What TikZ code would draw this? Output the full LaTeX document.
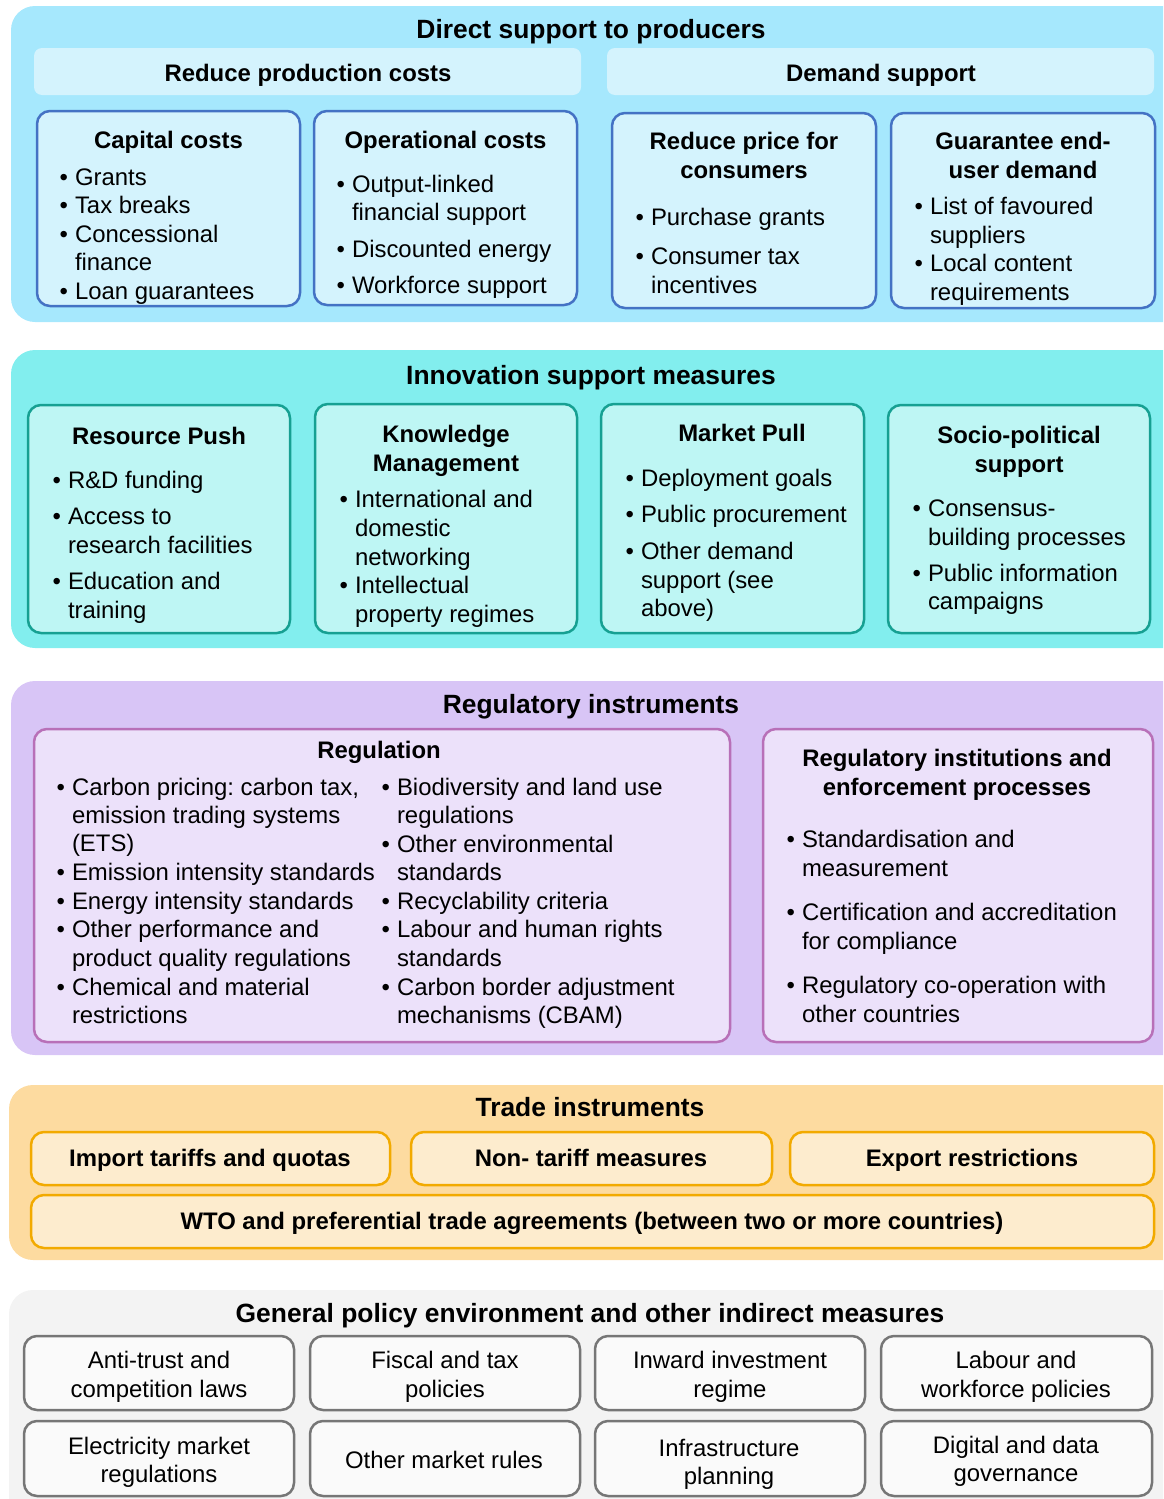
\documentclass[tikz,border=0pt]{standalone}
\usepackage{fontspec}
\setmainfont{Liberation Sans}
\frenchspacing
\definecolor{oA}{RGB}{166,232,253}
\definecolor{iA}{RGB}{212,243,253}
\definecolor{bA}{RGB}{68,114,196}
\definecolor{oB}{RGB}{130,238,238}
\definecolor{iB}{RGB}{190,246,244}
\definecolor{bB}{RGB}{22,160,146}
\definecolor{oC}{RGB}{216,197,246}
\definecolor{iC}{RGB}{236,225,250}
\definecolor{bC}{RGB}{184,112,184}
\definecolor{oD}{RGB}{253,219,160}
\definecolor{iD}{RGB}{253,236,206}
\definecolor{bD}{RGB}{242,170,0}
\definecolor{oE}{RGB}{243,243,243}
\definecolor{iE}{RGB}{250,250,250}
\definecolor{bE}{RGB}{118,118,118}
\newcommand\bodyfont{\fontsize{23.9}{28}\selectfont\frenchspacing}
\newcommand\ttlfont{\fontsize{26.4}{31}\selectfont\bfseries}
\newcounter{ln}
\newcommand\bx[6]{\node[#2,anchor=north west,minimum width={#5pt-#3pt},minimum height={#6pt-#4pt}] (#1) at (#3,#4) {};}
\newcommand\tl[3]{\stepcounter{ln}\node[txt,anchor=base west] (l\arabic{ln}) at (#1,#2+8) {#3};}
\newcommand\bi[4]{\stepcounter{ln}\node[txt,anchor=base west] (d\arabic{ln}) at (#2-15.5,#3+8) {•};\node[txt,anchor=base west] (l\arabic{ln}) at (#2,#3+8) {#4};}
\newcommand\ct[3]{\stepcounter{ln}\node[txt,anchor=base] (c\arabic{ln}) at (#1,#2+8) {\bfseries #3};}
\newcommand\cn[3]{\stepcounter{ln}\node[txt,anchor=base] (n\arabic{ln}) at (#1,#2+8) {#3};}
\newcommand\sectitle[4]{\node[ttl,anchor=base] (#1) at (#2,#3+9) {#4};}
\begin{document}
\begin{tikzpicture}[x=1pt,y=-1pt,
  txt/.style={inner sep=0pt,outer sep=0pt,font=\bodyfont,text=black},
  ttl/.style={inner sep=0pt,outer sep=0pt,font=\ttlfont,text=black},
  panel/.style={inner sep=0pt,outer sep=0pt,rounded corners=24pt},
  card/.style={inner sep=0pt,outer sep=0pt,rounded corners=13pt,line width=2.5pt},
  oAp/.style={panel,fill=oA},
  oBp/.style={panel,fill=oB},
  oCp/.style={panel,fill=oC},
  oDp/.style={panel,fill=oD},
  oEp/.style={panel,fill=oE},
  bandA/.style={inner sep=0pt,outer sep=0pt,rounded corners=8pt,fill=iA},
  cA/.style={card,fill=iA,draw=bA},
  cB/.style={card,fill=iB,draw=bB},
  cC/.style={card,fill=iC,draw=bC},
  cD/.style={card,fill=iD,draw=bD},
  cE/.style={card,fill=iE,draw=bE}]
\useasboundingbox (0,0) rectangle (1163,1499);
\clip (0,0) rectangle (1163,1499);

% ---------- Section 1 ----------
\bx{s1}{oAp}{11}{6}{1200}{322}
\sectitle{t1}{591}{29}{Direct support to producers}
\bx{rpc}{bandA}{34}{48}{581}{95}
\bx{dms}{bandA}{607}{48}{1154}{95}
\ct{308}{73}{Reduce production costs}
\ct{881}{73}{Demand support}
\bx{cap}{cA}{37}{111}{300}{306}
\bx{ope}{cA}{314}{111}{577}{305}
\bx{rpr}{cA}{612}{113}{876}{308}
\bx{gua}{cA}{891}{113}{1155}{308}
\ct{168.5}{140}{Capital costs}
\bi{62}{75}{177}{Grants}
\bi{62}{75}{205}{Tax breaks}
\bi{62}{75}{234}{Concessional}
\tl{75}{262}{finance}
\bi{62}{75}{291}{Loan guarantees}
\ct{445.5}{140}{Operational costs}
\bi{339}{352}{184}{Output-linked}
\tl{352}{212}{financial support}
\bi{339}{352}{249}{Discounted energy}
\bi{339}{352}{285}{Workforce support}
\ct{744}{141}{Reduce price for}
\ct{744}{170}{consumers}
\bi{637}{651}{217}{Purchase grants}
\bi{637}{651}{256}{Consumer tax}
\tl{651}{285}{incentives}
\ct{1023}{141}{Guarantee end-}
\ct{1023}{170}{user demand}
\bi{916}{930}{206}{List of favoured}
\tl{930}{235}{suppliers}
\bi{916}{930}{263}{Local content}
\tl{930}{292}{requirements}

% ---------- Section 2 ----------
\bx{s2}{oBp}{11}{350}{1200}{648}
\sectitle{t2}{591}{375}{Innovation support measures}
\bx{rsp}{cB}{28}{405}{290}{633}
\bx{knm}{cB}{315}{404}{577}{633}
\bx{mkp}{cB}{601}{404}{864}{633}
\bx{spo}{cB}{888}{405}{1150}{633}
\ct{159}{436}{Resource Push}
\bi{57}{68}{480}{R\&D funding}
\bi{57}{68}{516}{Access to}
\tl{68}{545}{research facilities}
\bi{57}{68}{581}{Education and}
\tl{68}{610}{training}
\ct{446}{434}{Knowledge}
\ct{446}{463}{Management}
\bi{344}{355}{499}{International and}
\tl{355}{528}{domestic}
\tl{355}{557}{networking}
\bi{344}{355}{585}{Intellectual}
\tl{355}{614}{property regimes}
\ct{742}{433}{Market Pull}
\bi{630}{641}{478}{Deployment goals}
\bi{630}{641}{514}{Public procurement}
\bi{630}{641}{551}{Other demand}
\tl{641}{580}{support (see}
\tl{641}{608}{above)}
\ct{1019}{435}{Socio-political}
\ct{1019}{464}{support}
\bi{917}{928}{508}{Consensus-}
\tl{928}{537}{building processes}
\bi{917}{928}{573}{Public information}
\tl{928}{601}{campaigns}

% ---------- Section 3 ----------
\bx{s3}{oCp}{11}{681}{1200}{1055}
\sectitle{t3}{591}{704}{Regulatory instruments}
\bx{reg}{cC}{34}{729}{730}{1042}
\bx{rin}{cC}{763}{729}{1153}{1042}
\ct{379}{750}{Regulation}
\bi{62}{72}{787}{Carbon pricing: carbon tax,}
\tl{72}{815}{emission trading systems}
\tl{72}{843}{(ETS)}
\bi{62}{72}{872}{Emission intensity standards}
\bi{62}{72}{901}{Energy intensity standards}
\bi{62}{72}{929}{Other performance and}
\tl{72}{958}{product quality regulations}
\bi{62}{72}{987}{Chemical and material}
\tl{72}{1015}{restrictions}
\bi{387}{397}{787}{Biodiversity and land use}
\tl{397}{815}{regulations}
\bi{387}{397}{844}{Other environmental}
\tl{397}{872}{standards}
\bi{387}{397}{901}{Recyclability criteria}
\bi{387}{397}{929}{Labour and human rights}
\tl{397}{958}{standards}
\bi{387}{397}{987}{Carbon border adjustment}
\tl{397}{1015}{mechanisms (CBAM)}
\ct{957}{758}{Regulatory institutions and}
\ct{957}{787}{enforcement processes}
\bi{791}{802}{839}{Standardisation and}
\tl{802}{868}{measurement}
\bi{791}{802}{912}{Certification and accreditation}
\tl{802}{941}{for compliance}
\bi{791}{802}{985}{Regulatory co-operation with}
\tl{802}{1014}{other countries}

% ---------- Section 4 ----------
\bx{s4}{oDp}{9}{1085}{1200}{1260}
\sectitle{t4}{590}{1107}{Trade instruments}
\bx{imp}{cD}{31}{1132}{390}{1185}
\bx{ntm}{cD}{411}{1132}{772}{1185}
\bx{exr}{cD}{790}{1132}{1154}{1185}
\bx{wto}{cD}{31}{1195}{1154}{1248}
\ct{210}{1158}{Import tariffs and quotas}
\ct{591}{1158}{Non- tariff measures}
\ct{972}{1158}{Export restrictions}
\ct{592}{1221}{WTO and preferential trade agreements (between two or more countries)}

% ---------- Section 5 ----------
\bx{s5}{oEp}{9}{1290}{1200}{1540}
\sectitle{t5}{590}{1313}{General policy environment and other indirect measures}
\bx{atr}{cE}{24}{1336}{294}{1410}
\bx{fis}{cE}{310}{1336}{580}{1410}
\bx{inv}{cE}{595}{1336}{865}{1410}
\bx{lab}{cE}{881}{1336}{1152}{1410}
\bx{ele}{cE}{24}{1421}{294}{1496}
\bx{omr}{cE}{310}{1421}{580}{1496}
\bx{inf}{cE}{595}{1421}{865}{1496}
\bx{dig}{cE}{881}{1421}{1152}{1496}
\cn{159}{1360}{Anti-trust and}
\cn{159}{1389}{competition laws}
\cn{445}{1360}{Fiscal and tax}
\cn{445}{1389}{policies}
\cn{730}{1360}{Inward investment}
\cn{730}{1389}{regime}
\cn{1016}{1360}{Labour and}
\cn{1016}{1389}{workforce policies}
\cn{159}{1446}{Electricity market}
\cn{159}{1474}{regulations}
\cn{444}{1460}{Other market rules}
\cn{729}{1448}{Infrastructure}
\cn{729}{1476}{planning}
\cn{1016}{1445}{Digital and data}
\cn{1016}{1473}{governance}
\end{tikzpicture}
\end{document}
